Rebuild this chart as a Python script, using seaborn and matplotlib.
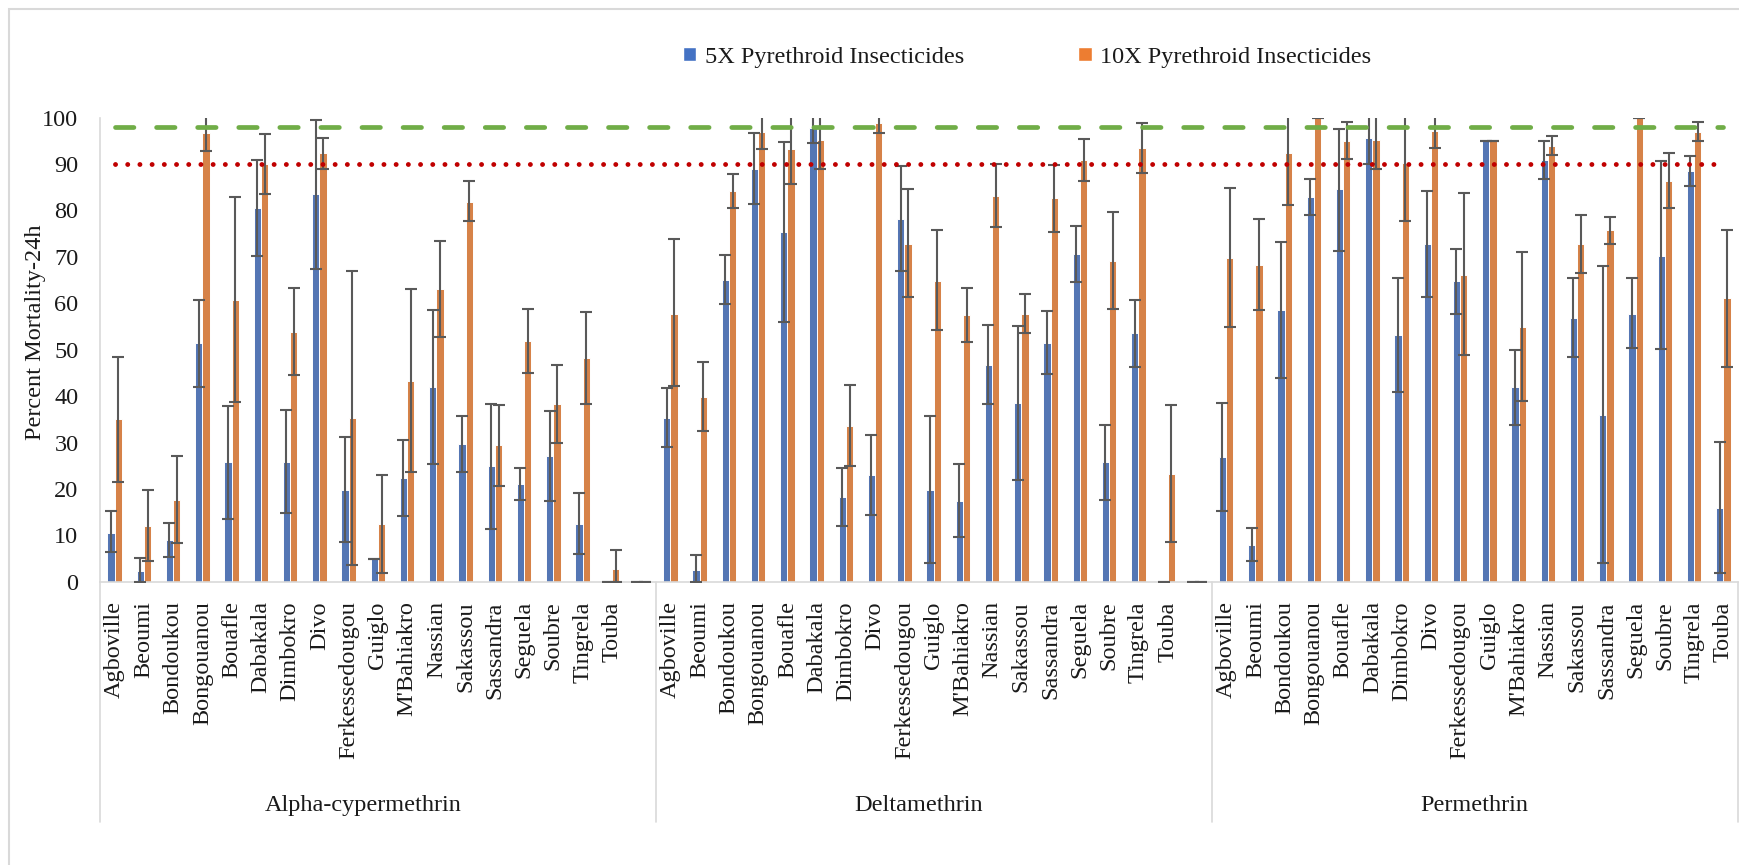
import numpy as np
import pandas as pd
import matplotlib
matplotlib.use("Agg")
import matplotlib.pyplot as plt
import matplotlib.transforms as mtransforms
from matplotlib.patches import Patch, Rectangle
import seaborn as sns

# ---------------------------------------------------------------- data
sites = ["Agboville", "Beoumi", "Bondoukou", "Bongouanou", "Bouafle", "Dabakala",
         "Dimbokro", "Divo", "Ferkessedougou", "Guiglo", "M'Bahiakro", "Nassian",
         "Sakassou", "Sassandra", "Seguela", "Soubre", "Tingrela", "Touba"]
insecticides = ["Alpha-cypermethrin", "Deltamethrin", "Permethrin"]
doses = ["5X Pyrethroid Insecticides", "10X Pyrethroid Insecticides"]
# an empty (zero) slot follows the first two insecticide blocks
trailing_blank = [True, True, False]

# 24h mortality (%) with lower / upper limits of the error bars
alpha_5x = [10.6, 2.4, 9.0, 51.4, 25.7, 80.5, 25.8, 83.5, 19.8, 4.8, 22.3, 42.0, 29.6, 24.9, 21.0, 27.0, 12.5, 0.0]
alpha_5x_lo = [6.3, 0.0, 5.4, 41.9, 13.6, 70.2, 14.9, 67.5, 8.5, 4.8, 14.2, 25.4, 23.6, 11.4, 17.6, 17.4, 6.0, 0.0]
alpha_5x_hi = [15.2, 5.2, 12.7, 60.8, 37.9, 90.9, 36.9, 99.6, 31.2, 4.8, 30.5, 58.5, 35.7, 38.4, 24.4, 36.8, 19.1, 0.0]
alpha_10x = [35.0, 12.1, 17.7, 96.8, 60.8, 90.0, 53.8, 92.3, 35.2, 12.4, 43.2, 63.0, 81.9, 29.4, 51.8, 38.3, 48.3, 2.8]
alpha_10x_lo = [21.4, 4.5, 8.4, 92.9, 38.7, 83.6, 44.5, 88.9, 3.6, 1.8, 23.6, 52.8, 77.7, 20.7, 45.0, 30.0, 38.4, 0.0]
alpha_10x_hi = [48.5, 19.7, 27.1, 100.7, 82.9, 96.4, 63.4, 95.6, 67.0, 23.0, 63.1, 73.4, 86.4, 38.0, 58.7, 46.7, 58.1, 6.8]

delta_5x = [35.3, 2.5, 65.0, 88.9, 75.3, 97.7, 18.3, 22.9, 78.2, 19.8, 17.5, 46.8, 38.6, 51.5, 70.6, 25.8, 53.5, 0.0]
delta_5x_lo = [29.1, 0.0, 59.8, 81.4, 55.9, 94.6, 12.1, 14.4, 67.0, 4.1, 9.7, 38.3, 22.0, 44.8, 64.6, 17.7, 46.2, 0.0]
delta_5x_hi = [41.7, 5.7, 70.4, 96.6, 94.7, 100.8, 24.6, 31.6, 89.6, 35.7, 25.3, 55.3, 55.2, 58.3, 76.7, 33.8, 60.8, 0.0]
delta_10x = [57.8, 39.9, 84.1, 97.0, 93.2, 95.3, 33.5, 98.9, 72.8, 64.9, 57.4, 83.1, 57.8, 82.6, 90.9, 69.1, 93.4, 23.3]
delta_10x_lo = [42.2, 32.5, 80.5, 93.2, 85.8, 89.0, 24.9, 96.8, 61.3, 54.2, 51.6, 76.4, 53.7, 75.4, 86.4, 58.7, 88.0, 8.6]
delta_10x_hi = [73.8, 47.3, 87.8, 100.8, 100.6, 101.6, 42.4, 101.0, 84.6, 75.8, 63.4, 90.0, 62.0, 89.7, 95.5, 79.7, 98.8, 38.0]

perm_5x = [26.8, 7.9, 58.5, 83.0, 84.6, 95.6, 53.1, 72.8, 64.7, 95.0, 41.9, 90.8, 56.8, 35.9, 57.8, 70.3, 88.5, 15.9]
perm_5x_lo = [15.2, 4.4, 43.8, 79.1, 71.3, 90.0, 40.9, 61.4, 57.7, 95.0, 33.8, 86.8, 48.5, 4.0, 50.4, 50.1, 85.3, 1.8]
perm_5x_hi = [38.5, 11.6, 73.3, 86.8, 97.5, 101.2, 65.4, 84.3, 71.7, 95.0, 50.0, 95.0, 65.4, 68.0, 65.4, 90.7, 91.7, 30.2]
perm_10x = [69.8, 68.3, 92.4, 100.0, 95.0, 95.2, 90.2, 97.1, 66.2, 95.0, 55.0, 93.9, 72.7, 75.7, 99.9, 86.4, 96.9, 61.1]
perm_10x_lo = [54.9, 58.5, 81.1, 100.0, 91.0, 88.9, 77.7, 93.5, 48.9, 95.0, 38.9, 91.9, 66.5, 72.7, 99.9, 80.5, 95.0, 46.3]
perm_10x_hi = [84.8, 78.1, 103.7, 100.0, 99.1, 101.5, 102.7, 100.7, 83.7, 95.0, 71.0, 96.0, 79.0, 78.7, 99.9, 92.4, 99.1, 75.9]

susceptibility_threshold = 98   # confirmed susceptibility
resistance_threshold = 90       # confirmed resistance below

series = {
    ("Alpha-cypermethrin", 0): (alpha_5x, alpha_5x_lo, alpha_5x_hi),
    ("Alpha-cypermethrin", 1): (alpha_10x, alpha_10x_lo, alpha_10x_hi),
    ("Deltamethrin", 0): (delta_5x, delta_5x_lo, delta_5x_hi),
    ("Deltamethrin", 1): (delta_10x, delta_10x_lo, delta_10x_hi),
    ("Permethrin", 0): (perm_5x, perm_5x_lo, perm_5x_hi),
    ("Permethrin", 1): (perm_10x, perm_10x_lo, perm_10x_hi),
}

# ---------------------------------------------------------------- long table
slot_keys, slot_labels = [], []
group_bounds, group_centers = [-0.5], []
mean = {0: [], 1: []}
low = {0: [], 1: []}
high = {0: [], 1: []}
rows = []
for g, name in enumerate(insecticides):
    start = len(slot_keys)
    for s_i, site in enumerate(sites):
        key = f"{name}|{site}"
        slot_keys.append(key)
        slot_labels.append(site)
        for d in (0, 1):
            m, lo, hi = series[(name, d)]
            mean[d].append(m[s_i]); low[d].append(lo[s_i]); high[d].append(hi[s_i])
            rows.append({"slot": key, "dose": doses[d], "mortality": m[s_i]})
    group_centers.append((start + len(slot_keys) - 1) / 2)
    if trailing_blank[g]:
        key = f"{name}|"
        slot_keys.append(key)
        slot_labels.append("")
        for d in (0, 1):
            mean[d].append(0.0); low[d].append(0.0); high[d].append(0.0)
            rows.append({"slot": key, "dose": doses[d], "mortality": 0.0})
    group_bounds.append(len(slot_keys) - 0.5)
df = pd.DataFrame(rows)
n_slots = len(slot_keys)

# ---------------------------------------------------------------- style
sns.set_style("white")
plt.rcParams["font.family"] = ["Liberation Serif", "DejaVu Serif"]
FS = 17.5
TXT = "#1a1a1a"
GRID = "#D9D9D9"
BLUE, ORANGE = "#4472C4", "#ED7D31"

W_PX, H_PX = 1739, 865
fig = plt.figure(figsize=(W_PX / 100, H_PX / 100), dpi=100)
ax = fig.add_axes([100 / W_PX, 1 - 581.7 / H_PX, 1638 / W_PX, 464 / H_PX])

sns.barplot(data=df, x="slot", y="mortality", hue="dose", order=slot_keys,
            hue_order=doses, palette=[BLUE, ORANGE], width=0.5, errorbar=None,
            edgecolor="white", linewidth=0.7, legend=False, ax=ax, zorder=2)

# error bars on each bar
for d, cont in enumerate(ax.containers[:2]):
    xs = np.array([p.get_x() + p.get_width() / 2 for p in cont])
    idx = np.rint(xs).astype(int)
    m = np.array(mean[d])[idx]
    lo = np.array(low[d])[idx]
    hi = np.array(high[d])[idx]
    ax.errorbar(xs, m, yerr=[m - lo, hi - m], fmt="none", ecolor="#595959",
                elinewidth=1.5, capsize=4.3, capthick=1.5, zorder=3)

# threshold lines
ax.plot([0, n_slots - 1], [susceptibility_threshold] * 2, color="#70AD47", lw=3.4,
        dashes=(3.9, 4.8), dash_capstyle="round", zorder=4)
ax.plot([0, n_slots - 1], [resistance_threshold] * 2, color="#C00000", lw=3.5,
        dashes=(0.01, 2.5), dash_capstyle="round", zorder=4)

ax.set_xlim(-0.5, n_slots - 0.5)
ax.set_ylim(0, 100)
ax.set_yticks(np.arange(0, 101, 10))
ax.set_xticks(range(n_slots))
ax.set_xticklabels(slot_labels, rotation=90, va="top", ha="center")
ax.tick_params(axis="x", length=0, pad=14, labelsize=FS, labelcolor=TXT)
ax.tick_params(axis="y", length=4.5, width=1, color=GRID, direction="out",
               pad=11, labelsize=FS, labelcolor=TXT)
ax.set_xlabel("")
ax.set_ylabel("")
for side in ("top", "right"):
    ax.spines[side].set_visible(False)
for side in ("left", "bottom"):
    ax.spines[side].set_color(GRID)
    ax.spines[side].set_linewidth(1.2)

# multi-level category axis: separators and insecticide names
trans = mtransforms.blended_transform_factory(ax.transData, ax.transAxes)
for b in group_bounds:
    ax.plot([b, b], [0, -0.517], transform=trans, color=GRID, lw=1.2, clip_on=False)
for c, name in zip(group_centers, insecticides):
    ax.text(c, -0.483, name, transform=trans, ha="center", va="center",
            fontsize=FS, color=TXT)

fig.text(36 / W_PX, 1 - 332 / H_PX, "Percent Mortality-24h", rotation=90,
         ha="center", va="center", fontsize=FS, color=TXT)

handles = [Patch(facecolor=BLUE), Patch(facecolor=ORANGE)]
fig.legend(handles, doses, loc="center left", bbox_to_anchor=(683 / W_PX, 1 - 57 / H_PX),
           ncol=2, frameon=False, fontsize=FS, handlelength=0.55, handleheight=0.55,
           handletextpad=0.35, columnspacing=4.7, borderpad=0, borderaxespad=0,
           labelcolor=TXT)

# chart-area border
fig.patches.append(Rectangle((9 / W_PX, -0.2), 1.2, 1.2 - 9 / H_PX, transform=fig.transFigure,
                             fill=False, edgecolor=GRID, lw=1.5))

fig.savefig("out.png", dpi=100)
